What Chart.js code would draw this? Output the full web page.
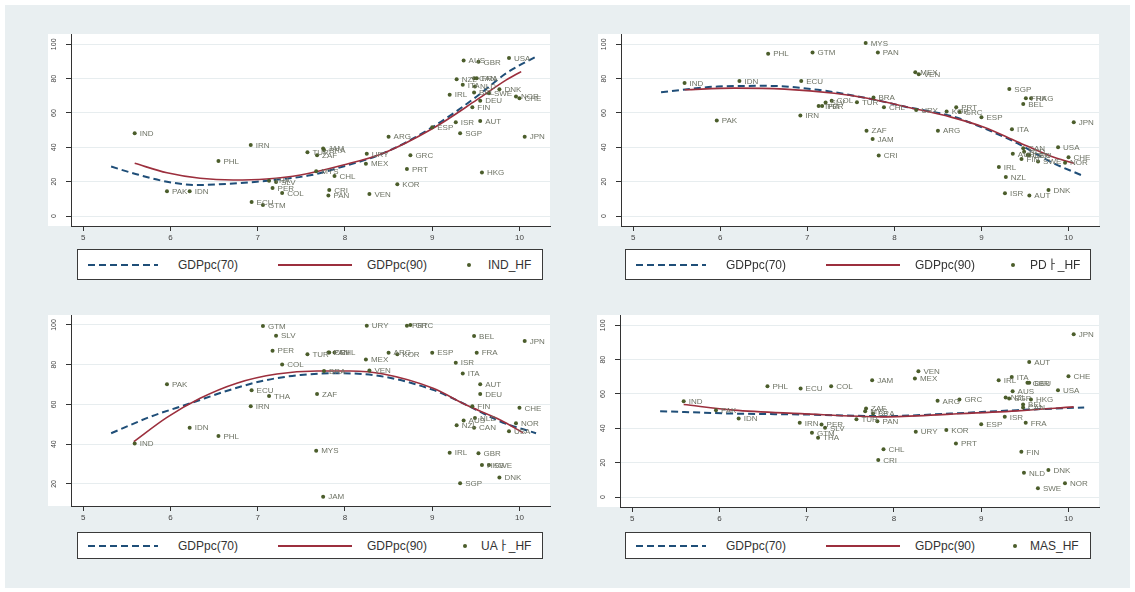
<!DOCTYPE html>
<html>
<head>
<meta charset="utf-8">
<script src="https://cdn.jsdelivr.net/npm/chart.js@4.4.1/dist/chart.umd.min.js"></script>
<style>
body{margin:0;background:#fff;width:1135px;height:592px;position:relative;overflow:hidden;font-family:"Liberation Sans",Arial,"Noto Sans CJK KR",sans-serif}
#frame{position:absolute;left:5px;top:5px;width:1125px;height:583px;background:#e9eff1}
canvas{position:absolute}
.legend{position:absolute;background:#fff;border:1px solid #3a3a3a;box-sizing:border-box}
.legend span{position:absolute;top:50%}
.dash{height:2px;margin-top:-1px;background:repeating-linear-gradient(90deg,#1f4e78 0 7px,transparent 7px 11px)}
.solid{height:2px;margin-top:-1px;background:#9c2f3d}
.dot{width:4px;height:4px;margin-top:-2px;border-radius:50%;background:#4b5d2b}
.lab{font-size:12px;line-height:12px;margin-top:-6px;color:#333;white-space:nowrap}
</style>
</head>
<body>
<div id="frame"></div>
<canvas id="c1" width="530" height="226" style="left:30px;top:24px"></canvas>
<canvas id="c2" width="530" height="226" style="left:580px;top:24px"></canvas>
<canvas id="c3" width="530" height="225" style="left:30px;top:305px"></canvas>
<canvas id="c4" width="530" height="226" style="left:579px;top:305px"></canvas>
<script>
// countries and log GDP per capita (x axis)
const countries = ["IND","PAK","IDN","PHL","IRN","ECU","GTM","THA","PER","SLV","COL","TUR","MYS","ZAF","JAM","BRA","PAN","CRI","CHL","MEX","URY","VEN","ARG","KOR","PRT","GRC","ESP","IRL","ISR","NZL","SGP","ITA","AUS","FIN","BEL","CAN","NLD","FRA","GBR","AUT","DEU","HKG","SWE","DNK","USA","NOR","CHE","JPN"];
const logGdp = [5.59,5.96,6.22,6.55,6.92,6.93,7.06,7.13,7.17,7.21,7.28,7.57,7.67,7.68,7.75,7.76,7.81,7.82,7.88,8.24,8.25,8.28,8.50,8.60,8.71,8.75,9.00,9.20,9.27,9.28,9.32,9.35,9.36,9.46,9.48,9.48,9.49,9.51,9.53,9.55,9.55,9.57,9.65,9.77,9.88,9.96,10.00,10.06];

// cultural scores
const indHf = [48.2,14.4,14.4,32.0,41.4,8.2,6.4,20.6,16.3,19.8,13.4,37.1,26.1,35.4,39.3,38.5,11.9,15.2,23.3,30.5,36.2,12.8,46.2,18.5,27.4,35.4,51.7,70.6,54.6,79.7,48.2,76.4,90.6,63.4,71.9,80.3,75.4,80.3,89.8,55.4,67.2,25.3,71.5,73.9,92.0,69.6,68.6,46.2];
const pdiHf = [77.4,55.6,78.7,94.5,58.5,78.7,95.2,64.1,64.1,66.1,67.2,66.3,100.7,49.7,44.9,69.0,95.2,35.2,63.4,83.8,61.8,82.6,49.7,60.8,63.4,60.6,57.5,28.6,13.2,22.7,74.0,50.5,36.2,33.2,65.3,39.5,37.5,68.6,35.6,11.9,35.6,68.6,31.7,15.2,40.0,31.1,34.2,54.6];
const uaiHf = [40.4,70.2,48.3,44.1,59.1,67.2,99.5,64.2,87.0,94.6,80.1,85.2,36.7,65.2,13.6,76.8,86.1,86.1,86.1,82.6,99.6,77.1,86.0,85.2,99.6,100.0,86.0,35.7,81.0,49.5,20.3,75.6,51.9,59.1,94.4,48.3,53.2,86.0,35.4,70.2,65.2,29.5,29.5,23.2,46.5,50.5,58.3,91.9];
const masHf = [55.8,50.6,45.8,64.5,43.2,63.2,37.4,34.5,42.3,40.3,64.5,45.3,50.0,51.6,68.0,48.6,44.2,21.5,27.9,69.0,38.0,73.3,56.0,39.0,31.2,56.8,42.4,68.0,46.7,58.0,57.4,69.9,61.6,26.3,53.9,52.2,14.1,43.2,66.5,78.7,66.5,56.8,5.1,15.7,62.2,8.0,70.3,94.8];

// fitted curves
const indFitX70 = [5.32,5.60,5.96,6.30,6.65,6.99,7.29,7.60,7.91,8.44,9.01,9.51,9.85,10.19];
const indFit70 = [28.8,24.5,20.0,18.1,18.7,20.0,21.6,23.7,27.8,36.6,52.0,69.6,83.2,92.9];
const indFitX90 = [5.59,5.96,6.34,6.72,7.10,7.49,7.98,8.44,9.01,9.51,9.85,10.02];
const indFit90 = [30.7,25.2,22.0,21.0,21.6,23.9,29.7,36.6,51.1,67.6,79.3,84.1];

const pdiFitX70 = [5.32,5.97,6.54,7.12,7.69,8.15,8.65,9.03,9.41,9.79,10.16];
const pdiFit70 = [72.1,75.4,75.8,73.5,68.6,63.4,58.3,51.1,42.4,31.7,23.5];
const pdiFitX90 = [5.59,6.16,6.74,7.31,7.69,8.15,8.65,9.03,9.41,9.79,10.06];
const pdiFit90 = [73.5,74.5,73.9,71.5,68.6,63.4,57.6,51.7,43.3,35.0,30.7];

const uaiFitX70 = [5.32,5.77,6.23,6.68,7.07,7.49,7.94,8.44,9.01,9.39,9.78,10.19];
const uaiFit70 = [45.5,53.8,60.6,67.3,72.0,74.8,75.7,74.0,67.3,59.8,51.4,45.5];
const uaiFitX90 = [5.58,5.96,6.34,6.76,7.22,7.68,8.06,8.44,9.01,9.39,9.78,10.04];
const uaiFit90 = [41.3,53.5,63.1,70.7,75.3,76.8,76.8,75.3,68.1,59.7,52.2,45.8];

const masFitX70 = [5.32,6.16,6.93,7.88,8.65,9.41,10.18];
const masFit70 = [50.0,48.6,48.1,47.1,48.6,50.6,52.2];
const masFitX90 = [5.59,6.16,6.93,7.88,8.65,9.41,10.06];
const masFit90 = [53.9,50.6,48.6,46.7,48.3,50.2,52.5];

const xTicks = [5,6,7,8,9,10];
const yTicks = [0,20,40,60,80,100];
const yTicksUai = [20,40,60,80,100];

const FONT = '"Liberation Sans", Arial, sans-serif';

const plotBg = {
  id: 'plotBg',
  beforeDraw(chart) {
    const a = chart.chartArea, ctx = chart.ctx;
    ctx.save();
    ctx.fillStyle = '#ffffff';
    ctx.fillRect(a.left - 23, a.top, a.right - a.left + 23, a.bottom - a.top);
    ctx.restore();
  }
};

const pointLabels = {
  id: 'pointLabels',
  afterDatasetsDraw(chart) {
    const meta = chart.getDatasetMeta(2), ctx = chart.ctx;
    ctx.save();
    ctx.font = '8px ' + FONT;
    ctx.fillStyle = '#6e7365';
    ctx.textBaseline = 'middle';
    meta.data.forEach((pt, i) => ctx.fillText(countries[i], pt.x + 5, pt.y + 0.5));
    ctx.restore();
  }
};

const yLabels = {
  id: 'yLabels',
  afterDraw(chart) {
    const s = chart.scales.y, ctx = chart.ctx;
    ctx.save();
    ctx.font = '7px ' + FONT;
    ctx.fillStyle = '#444';
    ctx.textAlign = 'center';
    ctx.textBaseline = 'middle';
    s.ticks.forEach(t => {
      ctx.save();
      ctx.translate(s.right - 17, s.getPixelForValue(t.value));
      ctx.rotate(-Math.PI / 2);
      ctx.fillText(String(t.value), 0, 0);
      ctx.restore();
    });
    ctx.restore();
  }
};

function pts(xs, ys) { return xs.map((x, i) => ({ x: x, y: ys[i] })); }

function makePanel(id, score, fx70, f70, fx90, f90, yMin, yMax, yTickVals, padRight) {
  new Chart(document.getElementById(id), {
    type: 'scatter',
    data: {
      datasets: [
        { type: 'line', label: 'GDPpc(70)', data: pts(fx70, f70), borderColor: '#1f4e78', borderWidth: 2, borderDash: [7, 4], pointRadius: 0, cubicInterpolationMode: 'monotone', fill: false, order: 3 },
        { type: 'line', label: 'GDPpc(90)', data: pts(fx90, f90), borderColor: '#9c2f3d', borderWidth: 1.6, pointRadius: 0, cubicInterpolationMode: 'monotone', fill: false, order: 2 },
        { label: 'HF', data: pts(logGdp, score), pointRadius: 2, backgroundColor: '#4b5d2b', borderWidth: 0, order: 1 }
      ]
    },
    options: {
      responsive: false,
      animation: false,
      layout: { padding: { top: 10, right: padRight, left: 0, bottom: 0 } },
      plugins: { legend: { display: false }, tooltip: { enabled: false } },
      scales: {
        x: {
          type: 'linear', min: 4.86, max: 10.35,
          afterBuildTicks: s => { s.ticks = xTicks.map(v => ({ value: v })); },
          afterFit: s => { s.height = 24; },
          grid: { drawOnChartArea: false, tickLength: 5, tickColor: '#333' },
          border: { color: '#333' },
          ticks: { font: { size: 8, family: FONT }, color: '#444', padding: 2, maxRotation: 0 }
        },
        y: {
          type: 'linear', min: yMin, max: yMax,
          afterBuildTicks: s => { s.ticks = yTickVals.map(v => ({ value: v })); },
          afterFit: s => { s.width = 41; },
          grid: { color: '#e7edef', tickColor: '#333', tickLength: 5 },
          border: { color: '#333' },
          ticks: { display: false }
        }
      }
    },
    plugins: [plotBg, pointLabels, yLabels]
  });
}

makePanel('c1', indHf, indFitX70, indFit70, indFitX90, indFit90, -5.8, 106, yTicks, 10);
makePanel('c2', pdiHf, pdiFitX70, pdiFit70, pdiFitX90, pdiFit90, -5.8, 106, yTicks, 11);
makePanel('c3', uaiHf, uaiFitX70, uaiFit70, uaiFitX90, uaiFit90, 8.9, 105, yTicksUai, 10);
makePanel('c4', masHf, masFitX70, masFit70, masFitX90, masFit90, -5.8, 106, yTicks, 10);

function makeLegend(left, top, height, name, dotX, textX) {
  const box = document.createElement('div');
  box.className = 'legend';
  box.style.cssText = 'left:' + left + 'px;top:' + top + 'px;width:466px;height:' + height + 'px';
  box.innerHTML =
    '<span class="dash" style="left:10px;width:70px"></span>' +
    '<span class="lab" style="left:100px">GDPpc(70)</span>' +
    '<span class="solid" style="left:200px;width:74px"></span>' +
    '<span class="lab" style="left:289px">GDPpc(90)</span>' +
    '<span class="dot" style="left:' + (dotX - 2) + 'px"></span>' +
    '<span class="lab" style="left:' + textX + 'px">' + name + '</span>';
  document.body.appendChild(box);
}
makeLegend(77, 249, 31, 'IND_HF', 391, 410);
makeLegend(625, 249, 31, 'PDㅏ_HF', 387, 404);
makeLegend(77, 532, 27, 'UAㅏ_HF', 387, 403);
makeLegend(625, 532, 27, 'MAS_HF', 389, 404);
</script>
</body>
</html>
